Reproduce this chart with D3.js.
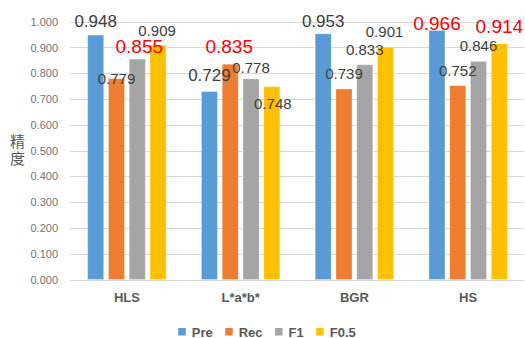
<!DOCTYPE html>
<html>
<head>
<meta charset="utf-8">
<script src="https://cdn.jsdelivr.net/npm/d3@7"></script>
<style>
  html, body { margin: 0; padding: 0; background: #ffffff; }
  svg { display: block; }
</style>
</head>
<body>
<svg id="chart" width="525" height="338"></svg>
<script>
// Accuracy of four colour spaces, four metrics each
const categories = ["HLS", "L*a*b*", "BGR", "HS"];
const seriesNames = ["Pre", "Rec", "F1", "F0.5"];
const pre  = [0.948, 0.729, 0.953, 0.966];
const rec  = [0.779, 0.835, 0.739, 0.752];
const f1   = [0.855, 0.778, 0.833, 0.846];
const f05  = [0.909, 0.748, 0.901, 0.914];
const yTicks = [0, 0.1, 0.2, 0.3, 0.4, 0.5, 0.6, 0.7, 0.8, 0.9, 1.0];
const yTitle = "精度";

const seriesValues = [pre, rec, f1, f05];
const colors = ["#5b9bd5", "#ed7d31", "#a5a5a5", "#ffc000"];

// label styling: emphasised values in red, hand-placed label nudges
const redLabels = new Set(["F1|HLS", "Rec|L*a*b*", "Pre|HS", "F0.5|HS"]);
const labelNudge = {
  "Pre|HLS": [0, -8.5], "Rec|HLS": [0, 5.3], "F1|HLS": [2, -5.8], "F0.5|HLS": [-1, -9.5],
  "Pre|L*a*b*": [0, -10.6], "Rec|L*a*b*": [-1, -10.9], "F1|L*a*b*": [0, -6.2], "F0.5|L*a*b*": [1, 22.6],
  "Pre|BGR": [0, -7], "Rec|BGR": [0, -10], "F1|BGR": [0, -9.8], "F0.5|BGR": [-1, -9.9],
  "Pre|HS": [0, -0.5], "Rec|HS": [0, -9.6], "F1|HS": [0, -10.7], "F0.5|HS": [0, -10.6]
};

const rows = [];
categories.forEach((c, ci) => {
  seriesNames.forEach((s, si) => {
    rows.push({ cat: c, series: s, si: si, value: seriesValues[si][ci] });
  });
});

const svg = d3.select("#chart");
const plot = { left: 70, right: 525, top: 21.7, bottom: 279.5 };

const x = d3.scaleBand().domain(categories).range([plot.left, plot.right]).padding(0);
const xInner = d3.scaleBand().domain(seriesNames).range([0, x.bandwidth()])
  .paddingInner(0.23).paddingOuter(0.85);
const y = d3.scaleLinear().domain([0, 1]).range([plot.bottom, plot.top]);

// gridlines
svg.append("g").selectAll("line").data(yTicks).join("line")
  .attr("x1", plot.left).attr("x2", plot.right - 1)
  .attr("y1", d => Math.round(y(d)) + 0.5).attr("y2", d => Math.round(y(d)) + 0.5)
  .attr("stroke", "#d9d9d9").attr("stroke-width", 1);

// y axis
const yAxis = svg.append("g")
  .attr("transform", `translate(${plot.left},0)`)
  .call(d3.axisLeft(y).tickValues(yTicks).tickFormat(d3.format(".3f")).tickSize(0).tickPadding(12));
yAxis.select(".domain").remove();
yAxis.selectAll("text")
  .attr("font-family", "Liberation Sans, Arial, sans-serif")
  .attr("font-size", 11).attr("fill", "#757575");

// y title, written top-to-bottom as a single text
svg.append("text")
  .attr("x", 17.5)
  .attr("y", (plot.top + plot.bottom) / 2)
  .attr("writing-mode", "vertical-rl")
  .attr("text-anchor", "middle")
  .attr("letter-spacing", 2)
  .attr("font-family", "Noto Sans CJK SC, sans-serif")
  .attr("font-size", 15).attr("fill", "#595959")
  .text(yTitle);

// x axis
const xAxis = svg.append("g")
  .attr("transform", `translate(0,${plot.bottom})`)
  .call(d3.axisBottom(x).tickSize(0).tickPadding(13));
xAxis.select(".domain").remove();
xAxis.selectAll("text")
  .attr("font-family", "Liberation Sans, Arial, sans-serif")
  .attr("font-size", 13).attr("font-weight", "bold").attr("fill", "#595959");

// bars
svg.append("g").selectAll("rect").data(rows).join("rect")
  .attr("x", d => x(d.cat) + xInner(d.series))
  .attr("y", d => y(d.value))
  .attr("width", xInner.bandwidth())
  .attr("height", d => y(0) - y(d.value))
  .attr("fill", d => colors[d.si])
  .attr("stroke", "#ffffff").attr("stroke-opacity", 0.35).attr("stroke-width", 0.8);

// value labels
svg.append("g").selectAll("text").data(rows).join("text")
  .attr("x", d => x(d.cat) + xInner(d.series) + xInner.bandwidth() / 2 + labelNudge[d.series + "|" + d.cat][0])
  .attr("y", d => y(d.value) + labelNudge[d.series + "|" + d.cat][1])
  .attr("text-anchor", "middle")
  .attr("font-family", "Liberation Sans, Arial, sans-serif")
  .attr("font-size", d => redLabels.has(d.series + "|" + d.cat) ? 19 : (d.series === "Pre" ? 17 : 15))
  .attr("fill", d => redLabels.has(d.series + "|" + d.cat) ? "#ff0000" : "#404040")
  .text(d => d3.format(".3f")(d.value));

// legend
const legend = svg.append("g");
let lx = 0;
seriesNames.forEach((s, i) => {
  const item = legend.append("g").attr("transform", `translate(${lx},0)`);
  item.append("rect").attr("x", 0).attr("y", -8.5).attr("width", 7.5).attr("height", 7.5).attr("fill", colors[i]);
  const t = item.append("text").attr("x", 13.5).attr("y", 0)
    .attr("font-family", "Liberation Sans, Arial, sans-serif")
    .attr("font-size", 13).attr("font-weight", "bold").attr("fill", "#595959")
    .text(s);
  lx += 13.5 + t.node().getComputedTextLength() + 12.5;
});
const legendWidth = lx - 12.5;
legend.attr("transform", `translate(${267 - legendWidth / 2},336.5)`);
</script>
</body>
</html>
